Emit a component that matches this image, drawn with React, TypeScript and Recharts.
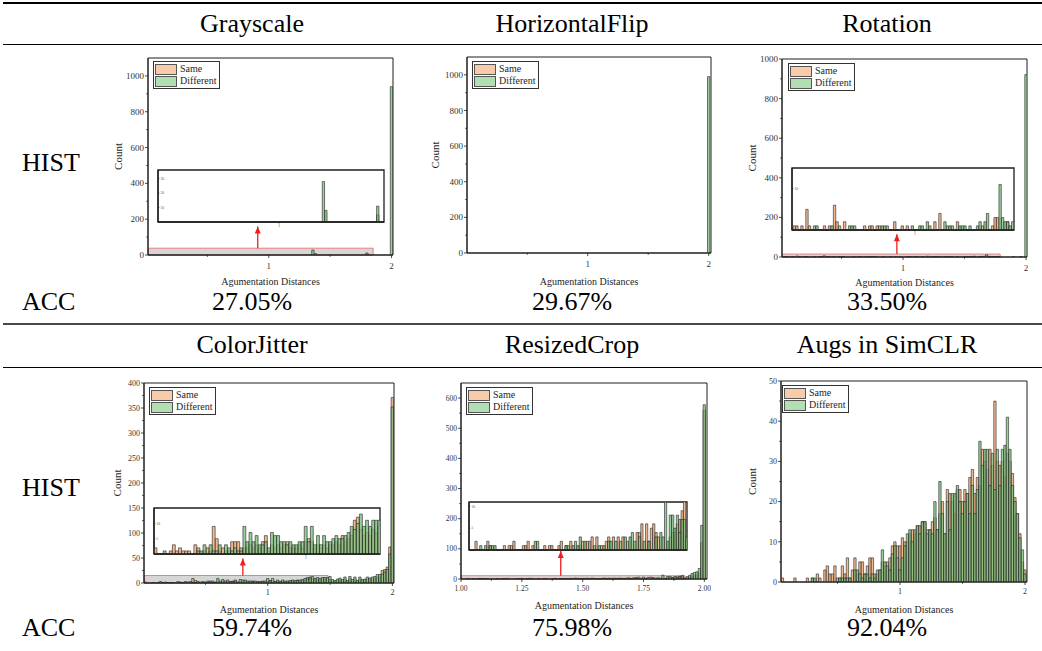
import React from 'react';
import {
  BarChart,
  Bar,
  XAxis,
  YAxis,
  Legend,
  ReferenceArea,
  ReferenceLine,
  ReferenceDot,
} from 'recharts';

const SERIF =
  '"Liberation Serif", "Times New Roman", Times, Tinos, "Nimbus Roman", "Nimbus Roman No9 L", FreeSerif, "DejaVu Serif", "Noto Serif", serif';
const INK = '#1e1e1e';
const SAME_COLOR = '#F0B285';
const DIFF_COLOR = '#80C280';
const BAR_EDGE = '#222';
const ZOOM_RED = '#ee6666';
const ARROW_RED = '#f01e1e';

// table text
const COL_CENTERS = [252, 572, 887];
const HEAD_TOP = ['Grayscale', 'HorizontalFlip', 'Rotation'];
const HEAD_BOTTOM = ['ColorJitter', 'ResizedCrop', 'Augs in SimCLR'];
const ACC_TOP = ['27.05%', '29.67%', '33.50%'];
const ACC_BOTTOM = ['59.74%', '75.98%', '92.04%'];
const LEGEND_NAMES = ['Same', 'Different'];

// bin centres
const BINS_02 = [
  0.02, 0.04, 0.06, 0.08, 0.1, 0.12, 0.14, 0.16, 0.18, 0.2,
  0.22, 0.24, 0.26, 0.28, 0.3, 0.32, 0.34, 0.36, 0.38, 0.4,
  0.42, 0.44, 0.46, 0.48, 0.5, 0.52, 0.54, 0.56, 0.58, 0.6,
  0.62, 0.64, 0.66, 0.68, 0.7, 0.72, 0.74, 0.76, 0.78, 0.8,
  0.82, 0.84, 0.86, 0.88, 0.9, 0.92, 0.94, 0.96, 0.98, 1.0,
  1.02, 1.04, 1.06, 1.08, 1.1, 1.12, 1.14, 1.16, 1.18, 1.2,
  1.22, 1.24, 1.26, 1.28, 1.3, 1.32, 1.34, 1.36, 1.38, 1.4,
  1.42, 1.44, 1.46, 1.48, 1.5, 1.52, 1.54, 1.56, 1.58, 1.6,
  1.62, 1.64, 1.66, 1.68, 1.7, 1.72, 1.74, 1.76, 1.78, 1.8,
  1.82, 1.84, 1.86, 1.88, 1.9, 1.92, 1.94, 1.96, 1.98, 2.0,
];
const BINS_01 = [
  1.01, 1.02, 1.03, 1.04, 1.05, 1.06, 1.07, 1.08, 1.09, 1.1,
  1.11, 1.12, 1.13, 1.14, 1.15, 1.16, 1.17, 1.18, 1.19, 1.2,
  1.21, 1.22, 1.23, 1.24, 1.25, 1.26, 1.27, 1.28, 1.29, 1.3,
  1.31, 1.32, 1.33, 1.34, 1.35, 1.36, 1.37, 1.38, 1.39, 1.4,
  1.41, 1.42, 1.43, 1.44, 1.45, 1.46, 1.47, 1.48, 1.49, 1.5,
  1.51, 1.52, 1.53, 1.54, 1.55, 1.56, 1.57, 1.58, 1.59, 1.6,
  1.61, 1.62, 1.63, 1.64, 1.65, 1.66, 1.67, 1.68, 1.69, 1.7,
  1.71, 1.72, 1.73, 1.74, 1.75, 1.76, 1.77, 1.78, 1.79, 1.8,
  1.81, 1.82, 1.83, 1.84, 1.85, 1.86, 1.87, 1.88, 1.89, 1.9,
  1.91, 1.92, 1.93, 1.94, 1.95, 1.96, 1.97, 1.98, 1.99, 2.0,
];

// Grayscale
const GS_BINS = [1.36, 1.38, 1.8, 2.0];
const GS_SAME = [0, 0, 5, 0];
const GS_DIFF = [28, 8, 11, 940];

// HorizontalFlip
const HF_BINS = [1.96, 1.98, 2.0];
const HF_SAME = [0, 0, 0];
const HF_DIFF = [0, 0, 990];

// Rotation
const ROT_BINS = [
  0.04, 0.06, 0.1, 0.14, 0.16, 0.2, 0.22, 0.28, 0.32, 0.34,
  0.36, 0.38, 0.4, 0.44, 0.48, 0.5, 0.52, 0.6, 0.64, 0.66,
  0.7, 0.72, 0.74, 0.76, 0.78, 0.84, 0.9, 0.94, 0.98, 1.04,
  1.06, 1.1, 1.12, 1.16, 1.2, 1.24, 1.26, 1.28, 1.3, 1.34,
  1.36, 1.38, 1.4, 1.44, 1.5, 1.52, 1.54, 1.56, 1.58, 1.62,
  1.64, 1.66, 1.68, 1.7, 1.72, 1.74, 1.76, 1.78, 1.9, 1.96, 2.0,
];
const ROT_SAME = [
  1, 1, 1, 5, 1, 0, 0, 1, 1, 0,
  6, 2, 1, 2, 0, 0, 0, 1, 1, 1,
  1, 1, 0, 0, 1, 2, 1, 1, 0, 0,
  0, 0, 1, 2, 4, 0, 1, 0, 0, 2,
  0, 0, 0, 0, 0, 0, 1, 0, 0, 1,
  3, 3, 0, 0, 0, 2, 0, 0, 0, 0, 0,
];
const ROT_DIFF = [
  0, 0, 0, 0, 0, 1, 1, 0, 0, 1,
  0, 0, 0, 0, 1, 1, 1, 0, 0, 0,
  0, 0, 1, 1, 0, 0, 0, 0, 1, 1,
  1, 2, 0, 0, 0, 2, 0, 1, 1, 0,
  1, 1, 1, 1, 1, 2, 0, 2, 4, 0,
  0, 0, 11, 3, 2, 2, 1, 2, 1, 2, 921,
];

// ColorJitter (bins 0.02 .. 2.00)
const CJ_SAME = [
  2, 0, 0, 0, 0, 1, 3, 1, 2, 1,
  1, 1, 0, 3, 2, 0, 1, 2, 1, 9,
  5, 1, 2, 1, 1, 4, 4, 4, 2, 2,
  2, 3, 2, 3, 2, 4, 6, 1, 3, 2,
  3, 2, 3, 4, 2, 2, 2, 3, 2, 4,
  5, 4, 2, 3, 2, 3, 2, 3, 3, 4,
  3, 6, 4, 5, 6, 11, 12, 8, 6, 7,
  6, 8, 7, 9, 7, 4, 3, 5, 6, 4,
  8, 3, 9, 4, 8, 3, 8, 5, 6, 8,
  7, 8, 9, 12, 12, 25, 27, 32, 72, 371,
];
const CJ_DIFF = [
  0, 0, 0, 1, 0, 0, 0, 0, 0, 0,
  0, 0, 0, 0, 1, 1, 3, 0, 3, 1,
  1, 3, 0, 3, 2, 1, 2, 1, 1, 9,
  4, 7, 4, 6, 3, 3, 4, 2, 7, 6,
  6, 4, 4, 3, 4, 3, 3, 4, 4, 9,
  4, 9, 3, 6, 3, 6, 4, 4, 5, 6,
  5, 5, 6, 7, 9, 8, 10, 13, 9, 11,
  9, 11, 11, 11, 13, 7, 5, 8, 10, 7,
  12, 5, 13, 7, 12, 5, 12, 7, 8, 12,
  10, 12, 13, 17, 17, 18, 22, 27, 58, 352,
];

// ResizedCrop (bins 1.01 .. 2.00)
const RC_SAME = [
  0, 0, 2, 0, 0, 0, 0, 2, 1, 0,
  0, 0, 0, 0, 1, 0, 1, 1, 2, 0,
  0, 0, 1, 1, 2, 0, 1, 0, 0, 0,
  0, 1, 0, 1, 1, 0, 0, 1, 2, 0,
  1, 0, 2, 0, 0, 0, 1, 2, 0, 2,
  2, 3, 0, 3, 0, 1, 0, 2, 3, 0,
  3, 0, 3, 0, 3, 0, 2, 0, 0, 0,
  4, 4, 6, 0, 6, 2, 5, 6, 4, 3,
  0, 0, 0, 0, 3, 4, 4, 6, 7, 9,
  12, 2, 4, 6, 9, 11, 13, 20, 120, 560,
];
const RC_DIFF = [
  0, 0, 0, 0, 1, 0, 1, 0, 1, 1,
  1, 0, 0, 0, 0, 0, 0, 0, 0, 0,
  0, 0, 0, 0, 0, 0, 0, 2, 2, 0,
  0, 0, 0, 0, 0, 0, 0, 0, 0, 0,
  1, 1, 0, 1, 2, 1, 3, 0, 2, 0,
  0, 0, 1, 0, 1, 0, 1, 0, 2, 2,
  0, 2, 0, 2, 0, 3, 0, 3, 4, 2,
  0, 3, 0, 2, 0, 2, 0, 0, 3, 0,
  4, 3, 13, 2, 8, 8, 5, 8, 4, 7,
  7, 3, 8, 12, 18, 22, 24, 35, 178, 578,
];

// Augs in SimCLR (bins 0.02 .. 2.00)
const SIM_SAME = [
  0, 0, 1, 0, 0, 0, 0, 1, 0, 0,
  0, 0, 1, 0, 1, 0, 2, 1, 0, 3,
  4, 2, 2, 4, 0, 1, 4, 2, 6, 1,
  3, 6, 2, 5, 5, 2, 4, 6, 6, 2,
  2, 3, 5, 4, 5, 6, 9, 10, 9, 9,
  11, 10, 10, 12, 13, 12, 14, 14, 15, 15,
  13, 13, 15, 16, 13, 17, 20, 12, 23, 22,
  20, 17, 23, 23, 20, 23, 22, 26, 28, 22,
  26, 24, 33, 30, 28, 33, 29, 45, 30, 29,
  30, 26, 32, 30, 27, 21, 17, 12, 5, 3,
];
const SIM_DIFF = [
  0, 0, 0, 0, 0, 0, 0, 0, 0, 0,
  0, 0, 0, 0, 1, 1, 0, 0, 0, 0,
  0, 0, 0, 0, 1, 1, 1, 1, 1, 1,
  0, 3, 3, 2, 1, 2, 2, 1, 2, 1,
  3, 3, 8, 5, 4, 3, 7, 9, 6, 3,
  6, 9, 12, 13, 10, 13, 14, 12, 15, 15,
  12, 13, 12, 20, 13, 25, 17, 12, 20, 13,
  22, 22, 24, 20, 17, 20, 22, 17, 24, 17,
  23, 35, 29, 33, 33, 24, 32, 23, 33, 24,
  33, 34, 41, 33, 24, 20, 17, 11, 8, 2,
];

// axis ticks ('' = minor tick)
const X_TICKS_UNIT = [0.5, 1, 1.5, 2];
const X_LABELS_UNIT = ['', '1', '', '2'];
const X_TICKS_RC = [1, 1.125, 1.25, 1.375, 1.5, 1.625, 1.75, 1.875, 2];
const X_LABELS_RC = ['1.00', '', '1.25', '', '1.50', '', '1.75', '', '2.00'];
const Y_TICKS_1000 = [0, 100, 200, 300, 400, 500, 600, 700, 800, 900, 1000];
const Y_LABELS_1000 = ['0', '', '200', '', '400', '', '600', '', '800', '', '1000'];
const Y_TICKS_400 = [0, 25, 50, 75, 100, 125, 150, 175, 200, 225, 250, 275, 300, 325, 350, 375, 400];
const Y_LABELS_400 = ['0', '', '50', '', '100', '', '150', '', '200', '', '250', '', '300', '', '350', '', '400'];
const Y_TICKS_600 = [0, 50, 100, 150, 200, 250, 300, 350, 400, 450, 500, 550, 600];
const Y_LABELS_600 = ['0', '', '100', '', '200', '', '300', '', '400', '', '500', '', '600'];
const Y_TICKS_50 = [0, 5, 10, 15, 20, 25, 30, 35, 40, 45, 50];
const Y_LABELS_50 = ['0', '', '10', '', '20', '', '30', '', '40', '', '50'];

type Row = { x: number; same: number; diff: number };
const toRows = (bins: number[], same: number[], diff: number[]): Row[] =>
  bins.map((x, i) => ({ x, same: same[i], diff: diff[i] }));

type Zoom = {
  x1: number;
  x2: number;
  rectTop: number;
  y2: number;
  arrowX: number;
  arrowTip: number;
  box: [number, number, number, number];
  yTicks: number[];
  xTicks: number[];
};

type PanelCfg = {
  plot: [number, number, number, number];
  rows: Row[];
  bin: number;
  xDomain: [number, number];
  yDomain: [number, number];
  xTicks: number[];
  xLabels: string[];
  yTicks: number[];
  yLabels: string[];
  tickFont: number;
  countX?: number;
  labelGap: number;
  legendAt: [number, number];
  zoom?: Zoom;
};

const PANELS: PanelCfg[] = [
  {
    plot: [148, 58, 393, 255],
    rows: toRows(GS_BINS, GS_SAME, GS_DIFF),
    bin: 0.02,
    xDomain: [0.016, 2.012],
    yDomain: [0, 1100],
    xTicks: X_TICKS_UNIT,
    xLabels: X_LABELS_UNIT,
    yTicks: Y_TICKS_1000,
    yLabels: Y_LABELS_1000,
    tickFont: 9,
    countX: 118,
    labelGap: 26,
    legendAt: [153, 61],
    zoom: { x1: 0.02, x2: 1.85, rectTop: 38, y2: 36, arrowX: 0.91, arrowTip: 159, box: [158, 170, 384, 222], yTicks: [10, 20, 30], xTicks: [1] },
  },
  {
    plot: [467, 57, 711, 253],
    rows: toRows(HF_BINS, HF_SAME, HF_DIFF),
    bin: 0.02,
    xDomain: [0.0025, 2.019],
    yDomain: [0, 1100],
    xTicks: X_TICKS_UNIT,
    xLabels: X_LABELS_UNIT,
    yTicks: Y_TICKS_1000,
    yLabels: Y_LABELS_1000,
    tickFont: 9,
    countX: 435,
    labelGap: 28,
    legendAt: [472, 61],
  },
  {
    plot: [782, 59, 1027, 257],
    rows: toRows(ROT_BINS, ROT_SAME, ROT_DIFF),
    bin: 0.02,
    xDomain: [0.016, 2.008],
    yDomain: [0, 1000],
    xTicks: X_TICKS_UNIT,
    xLabels: X_LABELS_UNIT,
    yTicks: Y_TICKS_1000,
    yLabels: Y_LABELS_1000,
    tickFont: 9,
    countX: 752,
    labelGap: 25,
    legendAt: [788, 63],
    zoom: { x1: 0.02, x2: 1.79, rectTop: 15, y2: 15, arrowX: 0.95, arrowTip: 115, box: [792, 168, 1014, 230], yTicks: [10], xTicks: [1] },
  },
  {
    plot: [144, 383, 394, 583],
    rows: toRows(BINS_02, CJ_SAME, CJ_DIFF),
    bin: 0.02,
    xDomain: [0.007, 2.013],
    yDomain: [0, 400],
    xTicks: X_TICKS_UNIT,
    xLabels: X_LABELS_UNIT,
    yTicks: Y_TICKS_400,
    yLabels: Y_LABELS_400,
    tickFont: 8,
    countX: 117,
    labelGap: 26,
    legendAt: [149, 387],
    zoom: { x1: 0.01, x2: 1.484, rectTop: 15, y2: 15, arrowX: 0.8, arrowTip: 49, box: [154, 508, 380, 554], yTicks: [5, 10], xTicks: [1] },
  },
  {
    plot: [461, 383, 707, 579],
    rows: toRows(BINS_01, RC_SAME, RC_DIFF),
    bin: 0.01,
    xDomain: [1.0, 2.011],
    yDomain: [0, 650],
    xTicks: X_TICKS_RC,
    xLabels: X_LABELS_RC,
    yTicks: Y_TICKS_600,
    yLabels: Y_LABELS_600,
    tickFont: 7.5,
    labelGap: 26,
    legendAt: [466, 387],
    zoom: { x1: 1.0, x2: 1.92, rectTop: 11, y2: 11, arrowX: 1.41, arrowTip: 93, box: [469, 502, 687, 550], yTicks: [5, 10], xTicks: [] },
  },
  {
    plot: [781, 381, 1027, 582],
    rows: toRows(BINS_02, SIM_SAME, SIM_DIFF),
    bin: 0.02,
    xDomain: [0.048, 2.016],
    yDomain: [0, 50],
    xTicks: X_TICKS_UNIT,
    xLabels: X_LABELS_UNIT,
    yTicks: Y_TICKS_50,
    yLabels: Y_LABELS_50,
    tickFont: 8,
    countX: 752,
    labelGap: 27,
    legendAt: [782, 385],
  },
];

const xTick = (values: number[], labels: string[], size: number, len = 3) => (p: any) => {
  const i = values.indexOf(p.payload.value);
  const lab = i >= 0 ? labels[i] : '';
  return (
    <g>
      <line x1={p.x} x2={p.x} y1={p.y} y2={p.y + (lab ? len : len * 0.6)} stroke={INK} strokeWidth={0.8} />
      {lab ? (
        <text x={p.x} y={p.y + size * 1.2} dy="0.35em" textAnchor="middle" fontSize={size} fill="#333" fontFamily={SERIF}>
          {lab}
        </text>
      ) : null}
    </g>
  );
};

const yTick = (values: number[], labels: string[], size: number) => (p: any) => {
  const i = values.indexOf(p.payload.value);
  const lab = i >= 0 ? labels[i] : '';
  return (
    <g>
      <line x1={p.x} x2={p.x - (lab ? 3 : 1.8)} y1={p.y} y2={p.y} stroke={INK} strokeWidth={0.8} />
      {lab ? (
        <text x={p.x - 4} y={p.y} dy="0.34em" textAnchor="end" fontSize={size} fill="#333" fontFamily={SERIF}>
          {lab}
        </text>
      ) : null}
    </g>
  );
};

const tinyYTick = (p: any) => (
  <g>
    <line x1={p.x} x2={p.x + 1.5} y1={p.y} y2={p.y} stroke={INK} strokeWidth={0.5} />
    <text x={p.x + 2.5} y={p.y} dy="0.34em" fontSize={3.5} fill="#555" fontFamily={SERIF}>
      {p.payload.value}
    </text>
  </g>
);

const LegendBox = () => (
  <div
    style={{
      display: 'inline-block',
      border: '1.5px solid #333',
      background: '#fff',
      padding: '1px 3px 1px 1px',
      fontFamily: SERIF,
      fontSize: 10,
      lineHeight: '12px',
      color: INK,
    }}
  >
    {LEGEND_NAMES.map((name, i) => (
      <div key={name} style={{ display: 'flex', alignItems: 'center', height: 12 }}>
        <span
          style={{
            display: 'inline-block',
            width: 20,
            height: 9,
            background: i ? '#B2DFB2' : '#F8CBAA',
            border: '1px solid #555',
            marginRight: 3,
          }}
        />
        {name}
      </div>
    ))}
  </div>
);

const Arrowhead = (p: any) => (
  <polygon points={`${p.cx},${p.cy} ${p.cx - 3},${p.cy + 7} ${p.cx + 3},${p.cy + 7}`} fill={ARROW_RED} />
);

function Hist({ cfg }: { cfg: PanelCfg }) {
  const [L, T, R, B] = cfg.plot;
  const YW = 45;
  const XH = 35;
  const MT = 5;
  const MR = 5;
  const bs = ((cfg.bin * (R - L)) / (cfg.xDomain[1] - cfg.xDomain[0])) * 0.94;
  const z = cfg.zoom;
  return (
    <div style={{ position: 'absolute', left: L - YW, top: T - MT }}>
      <BarChart
        width={R - L + YW + MR}
        height={B - T + MT + XH}
        data={cfg.rows}
        margin={{ top: MT, right: MR, bottom: 0, left: 0 }}
        barGap={-bs}
        style={{ fontFamily: SERIF }}
      >
        <XAxis
          xAxisId="b"
          dataKey="x"
          type="number"
          domain={cfg.xDomain}
          allowDataOverflow
          ticks={cfg.xTicks}
          interval={0}
          height={XH}
          tickSize={0}
          tickMargin={0}
          tickLine={false}
          axisLine={{ stroke: INK, strokeWidth: 1.2 }}
          tick={xTick(cfg.xTicks, cfg.xLabels, cfg.tickFont)}
          label={{
            value: 'Agumentation Distances',
            position: 'insideBottom',
            offset: XH - cfg.labelGap - 3.5,
            fontSize: 10,
            fill: INK,
            fontFamily: SERIF,
          }}
        />
        <YAxis
          yAxisId="l"
          type="number"
          domain={cfg.yDomain}
          allowDataOverflow
          ticks={cfg.yTicks}
          interval={0}
          width={YW}
          tickSize={0}
          tickMargin={0}
          tickLine={false}
          axisLine={{ stroke: INK, strokeWidth: 1 }}
          tick={yTick(cfg.yTicks, cfg.yLabels, cfg.tickFont)}
          label={
            cfg.countX !== undefined
              ? {
                  value: 'Count',
                  angle: -90,
                  position: 'insideLeft',
                  offset: cfg.countX - (L - YW),
                  fontSize: 11,
                  fill: INK,
                  fontFamily: SERIF,
                  style: { textAnchor: 'middle' },
                }
              : undefined
          }
        />
        <Legend
          layout="horizontal"
          align="center"
          verticalAlign="middle"
          wrapperStyle={{ left: cfg.legendAt[0] - (L - YW), top: cfg.legendAt[1] - (T - MT), width: 'auto' }}
          content={() => <LegendBox />}
        />
        <Bar
          xAxisId="b"
          yAxisId="l"
          dataKey="same"
          barSize={bs}
          fill={SAME_COLOR}
          fillOpacity={0.92}
          stroke={BAR_EDGE}
          strokeWidth={0.6}
          isAnimationActive={false}
        />
        <Bar
          xAxisId="b"
          yAxisId="l"
          dataKey="diff"
          barSize={bs}
          fill={DIFF_COLOR}
          fillOpacity={0.8}
          stroke={BAR_EDGE}
          strokeWidth={0.6}
          isAnimationActive={false}
        />
        {z ? (
          <ReferenceArea
            xAxisId="b"
            yAxisId="l"
            x1={z.x1}
            x2={z.x2}
            y1={0}
            y2={z.rectTop}
            fill="#c4c4c4"
            fillOpacity={0.7}
            stroke={ZOOM_RED}
            strokeWidth={0.8}
          />
        ) : null}
        {z ? (
          <ReferenceLine
            xAxisId="b"
            yAxisId="l"
            segment={[
              { x: z.arrowX, y: z.rectTop },
              { x: z.arrowX, y: z.arrowTip },
            ]}
            stroke={ARROW_RED}
            strokeWidth={1.3}
          />
        ) : null}
        {z ? (
          <ReferenceDot xAxisId="b" yAxisId="l" x={z.arrowX} y={z.arrowTip} r={3} shape={Arrowhead} />
        ) : null}
        {/* plot frame */}
        <ReferenceArea
          xAxisId="b"
          yAxisId="l"
          x1={cfg.xDomain[0]}
          x2={cfg.xDomain[1]}
          y1={cfg.yDomain[0]}
          y2={cfg.yDomain[1]}
          fill="none"
          fillOpacity={0}
          stroke={INK}
          strokeWidth={1}
        />
      </BarChart>
    </div>
  );
}

function Inset({ cfg }: { cfg: PanelCfg }) {
  const z = cfg.zoom as Zoom;
  const [l, t, r, b] = z.box;
  const M = 1;
  const XH = 7;
  const bs = ((cfg.bin * (r - l)) / (z.x2 - z.x1)) * 0.94;
  return (
    <div style={{ position: 'absolute', left: l - M - 1, top: t - M }}>
      <BarChart
        width={r - l + 2 * M + 1}
        height={b - t + M + XH}
        data={cfg.rows}
        margin={{ top: M, right: M, bottom: 0, left: 0 }}
        barGap={-bs}
        style={{ fontFamily: SERIF }}
      >
        <XAxis
          xAxisId="b"
          dataKey="x"
          type="number"
          domain={[z.x1, z.x2]}
          allowDataOverflow
          ticks={z.xTicks}
          interval={0}
          height={XH}
          tickSize={0}
          tickMargin={0}
          tickLine={false}
          axisLine={{ stroke: INK, strokeWidth: 1.3 }}
          tick={xTick(z.xTicks, z.xTicks.map(String), 3.5, 1.5)}
        />
        <YAxis
          yAxisId="l"
          type="number"
          domain={[0, z.y2]}
          allowDataOverflow
          ticks={z.yTicks}
          interval={0}
          width={2}
          tickSize={0}
          tickMargin={0}
          tickLine={false}
          axisLine={{ stroke: INK, strokeWidth: 1.3 }}
          tick={tinyYTick}
        />
        <Bar
          xAxisId="b"
          yAxisId="l"
          dataKey="same"
          barSize={bs}
          fill={SAME_COLOR}
          fillOpacity={0.92}
          stroke={BAR_EDGE}
          strokeWidth={0.6}
          isAnimationActive={false}
        />
        <Bar
          xAxisId="b"
          yAxisId="l"
          dataKey="diff"
          barSize={bs}
          fill={DIFF_COLOR}
          fillOpacity={0.8}
          stroke={BAR_EDGE}
          strokeWidth={0.6}
          isAnimationActive={false}
        />
        {/* inset frame */}
        <ReferenceArea
          xAxisId="b"
          yAxisId="l"
          x1={z.x1}
          x2={z.x2}
          y1={0}
          y2={z.y2}
          fill="none"
          fillOpacity={0}
          stroke={INK}
          strokeWidth={1.3}
        />
      </BarChart>
    </div>
  );
}

const Txt = ({ x, y, children, left }: { x: number; y: number; children: React.ReactNode; left?: boolean }) => (
  <div
    style={{
      position: 'absolute',
      left: x,
      top: y,
      transform: left ? 'translate(0,-50%)' : 'translate(-50%,-50%)',
      fontSize: 26,
      lineHeight: 1,
      whiteSpace: 'nowrap',
      fontFamily: SERIF,
    }}
  >
    {children}
  </div>
);

const Rule = ({ top, h, color }: { top: number; h: number; color: string }) => (
  <div style={{ position: 'absolute', left: 3, right: 0, top, height: h, background: color }} />
);

export default function App() {
  return (
    <div
      style={{
        position: 'relative',
        width: 1042,
        height: 651,
        background: '#fff',
        fontFamily: SERIF,
        color: '#000',
        overflow: 'hidden',
      }}
    >
      <style>{'body{margin:0}'}</style>
      <Rule top={2} h={2.2} color="#000" />
      <Rule top={43.6} h={1.4} color="#000" />
      <Rule top={322.8} h={1.8} color="#4a4a4a" />
      <Rule top={366.6} h={1.3} color="#000" />

      {HEAD_TOP.map((t, i) => (
        <Txt key={t} x={COL_CENTERS[i]} y={23.7}>{t}</Txt>
      ))}
      {HEAD_BOTTOM.map((t, i) => (
        <Txt key={t} x={COL_CENTERS[i]} y={345}>{t}</Txt>
      ))}
      {ACC_TOP.map((t, i) => (
        <Txt key={t} x={COL_CENTERS[i]} y={301.7}>{t}</Txt>
      ))}
      {ACC_BOTTOM.map((t, i) => (
        <Txt key={t} x={COL_CENTERS[i]} y={628.3}>{t}</Txt>
      ))}
      <Txt x={22} y={163} left>HIST</Txt>
      <Txt x={22} y={301.7} left>ACC</Txt>
      <Txt x={22} y={488} left>HIST</Txt>
      <Txt x={22} y={628.3} left>ACC</Txt>

      {PANELS.map((p, i) => (
        <Hist key={i} cfg={p} />
      ))}
      {PANELS.map((p, i) => (p.zoom ? <Inset key={'z' + i} cfg={p} /> : null))}
    </div>
  );
}
